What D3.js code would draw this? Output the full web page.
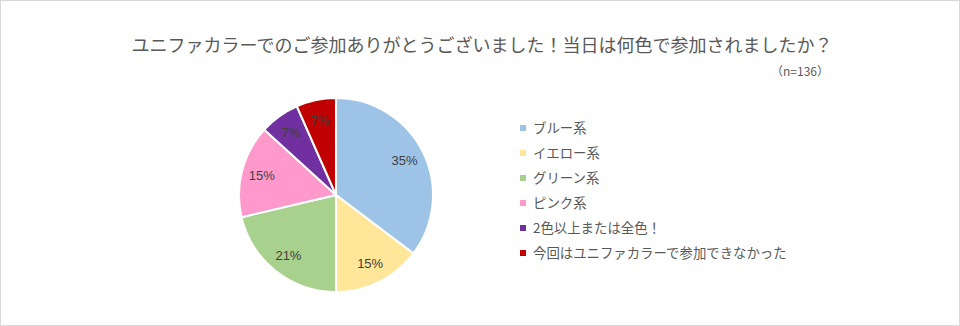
<!DOCTYPE html>
<html><head><meta charset="utf-8">
<script src="https://cdn.jsdelivr.net/npm/d3@7"></script>
<style>
html,body{margin:0;padding:0;background:#fff;}
svg{display:block;font-family:"Noto Sans CJK JP","Noto Sans",sans-serif;}
</style></head>
<body><svg id="c" width="960" height="326"></svg>
<script>
const categories = ["ブルー系","イエロー系","グリーン系","ピンク系","2色以上または全色！","今回はユニファカラーで参加できなかった"];
const counts = [48, 20, 29, 21, 9, 9];
const percentLabels = ["35%","15%","21%","15%","7%","7%"];
const colors = ["#9dc3e6","#ffe699","#a9d18e","#ff99cc","#7030a0","#c00000"];
const title = "ユニファカラーでのご参加ありがとうございました！当日は何色で参加されましたか？";
const note = "（n=136）";

const svg = d3.select("#c");
svg.append("rect").attr("x",0.5).attr("y",0.5).attr("width",959).attr("height",325)
  .attr("fill","#fff").attr("stroke","#d9d9d9").attr("stroke-width",1);

svg.append("text").attr("x",482).attr("y",52).attr("text-anchor","middle")
  .attr("font-size",18).attr("fill","#595959").text(title);
svg.append("text").attr("x",829).attr("y",76).attr("text-anchor","end")
  .attr("font-size",12).attr("fill","#595959").text(note);

const cx = 336, cy = 195, r = 97;
const pie = d3.pie().sort(null).value(d=>d)(counts);
const arc = d3.arc().innerRadius(0).outerRadius(r);
const labelArc = d3.arc().innerRadius(r*0.79).outerRadius(r*0.79);
const g = svg.append("g").attr("transform",`translate(${cx},${cy})`);
g.selectAll("path").data(pie).join("path")
  .attr("d",arc).attr("fill",(d,i)=>colors[i]).attr("stroke","#fff").attr("stroke-width",2);
g.selectAll("text").data(pie).join("text")
  .attr("transform",d=>`translate(${labelArc.centroid(d)})`)
  .attr("text-anchor","middle").attr("dy","0.35em")
  .attr("font-size",13).attr("fill","#404040")
  .attr("font-family","'Liberation Sans','Noto Sans',sans-serif")
  .text((d,i)=>percentLabels[i]);

const ly = d3.scalePoint().domain(categories).range([128,253]);
const lg = svg.append("g");
const items = lg.selectAll("g").data(categories).join("g")
  .attr("transform",d=>`translate(520,${ly(d)})`);
items.append("rect").attr("x",0).attr("y",-3).attr("width",6).attr("height",6)
  .attr("fill",(d,i)=>colors[i]);
items.append("text").attr("x",13).attr("y",0).attr("dy","0.36em")
  .attr("font-size",13.4).attr("fill","#595959").text(d=>d);
</script></body></html>
